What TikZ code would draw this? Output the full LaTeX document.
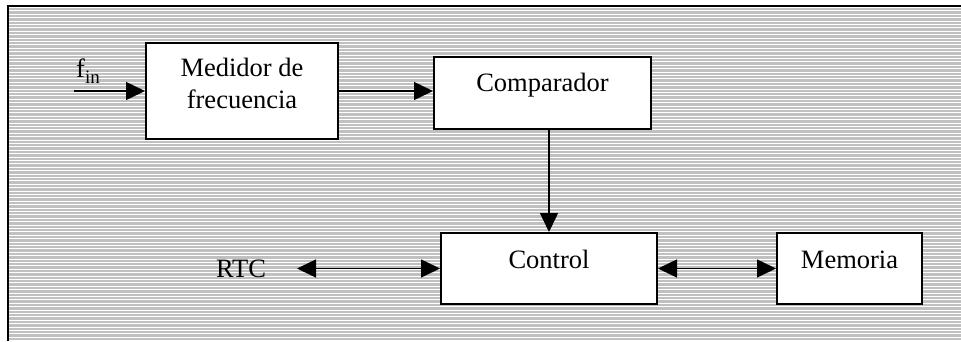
\documentclass[tikz,border=0pt]{standalone}
\usepackage{fontspec}
\setmainfont{Liberation Serif}
\usetikzlibrary{arrows.meta}
\definecolor{bggray}{RGB}{192,192,192}
\tikzset{
  blk/.style={draw=black, line width=2pt, fill=white, inner xsep=0pt, inner ysep=0pt, align=center,
    font=\fontsize{26.5}{32}\selectfont},
  lbl/.style={inner sep=0pt, font=\fontsize{26.5}{32}\selectfont},
  conn/.style={line width=1.5pt, -{Triangle[length=19pt,width=18pt]}},
  dconn/.style={line width=1.5pt, {Triangle[length=19pt,width=18pt]}-{Triangle[length=19pt,width=18pt]}}
}
\begin{document}
\begin{tikzpicture}[x=1pt,y=-1pt]
\useasboundingbox (0,0) rectangle (961,341);
\fill[white] (0,0) rectangle (961,341);
\fill[bggray] (8,6) rectangle (961,341);
\foreach \i in {0,...,98} {
  \draw[white, line width=1pt] (8,{7.5+\i*3.4}) -- (961,{7.5+\i*3.4});
}
\draw[black, line width=2pt] (8,341) -- (8,6) -- (961,6);

\node[blk, minimum width=192pt, minimum height=96pt] (med) at (242,91)
  {\raisebox{-1.5pt}[0pt][0pt]{\begin{tabular}{@{}c@{}}Medidor de\\frecuencia\end{tabular}}};
\node[blk, anchor=north, minimum width=217pt, text height=34pt, text depth=38pt] (comp) at (542.5,56) {Comparador};
\node[blk, anchor=north, minimum width=216pt, text height=35pt, text depth=36pt] (ctrl) at (549,232) {Control};
\node[blk, anchor=north, minimum width=145pt, text height=35pt, text depth=36pt] (mem) at (849.5,232) {Memoria};

\node[lbl] (fin) at (88,71) {f\raisebox{-0.25em}{\fontsize{19}{20}\selectfont in}};
\node[lbl] (rtc) at (241,269) {RTC};
\coordinate (finstart) at (74,91);
\coordinate (rtcend) at (297,269);

\draw[conn] (finstart) -- (finstart -| med.west);
\draw[conn] (med.east) -- (comp.west |- med.east);
\draw[conn] (ctrl.north |- comp.south) -- (ctrl.north);
\draw[dconn] (rtcend |- ctrl.west) -- (ctrl.west);
\draw[dconn] (ctrl.east) -- (mem.west);
\end{tikzpicture}
\end{document}
